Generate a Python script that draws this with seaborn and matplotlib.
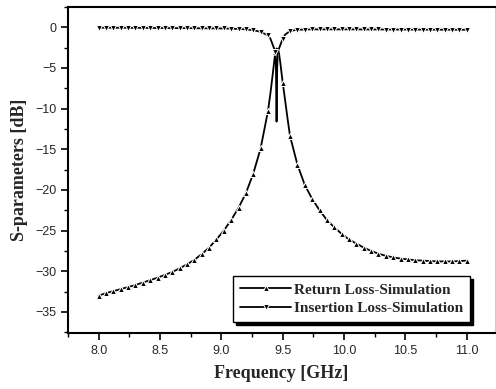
import numpy as np
import pandas as pd
import seaborn as sns
import matplotlib.pyplot as plt

# Return loss (S11), GHz / dB
freq_s11 = [8.00, 8.06, 8.12, 8.18, 8.24, 8.30, 8.36, 8.42, 8.48, 8.54,
            8.60, 8.66, 8.72, 8.78, 8.84, 8.90, 8.96, 9.02, 9.08, 9.14,
            9.20, 9.26, 9.32, 9.38, 9.40, 9.42, 9.44, 9.45, 9.46, 9.47,
            9.48, 9.50, 9.52, 9.54, 9.56, 9.62, 9.68, 9.74, 9.80, 9.86,
            9.92, 9.98, 10.04, 10.10, 10.16, 10.22, 10.28, 10.34, 10.40, 10.46,
            10.52, 10.58, 10.64, 10.70, 10.76, 10.82, 10.88, 10.94, 11.00]
s11 = [-33.0, -32.7, -32.45, -32.2, -31.95, -31.7, -31.4, -31.1, -30.8, -30.45,
       -30.1, -29.65, -29.15, -28.6, -27.9, -27.1, -26.1, -25.0, -23.7, -22.2,
       -20.4, -18.0, -14.9, -10.3, -8.1, -5.6, -3.0, -2.6, -2.7, -3.2,
       -4.3, -6.8, -9.0, -11.3, -13.4, -16.9, -19.4, -21.1, -22.5, -23.7,
       -24.6, -25.4, -26.1, -26.6, -27.1, -27.5, -27.85, -28.1, -28.3, -28.45,
       -28.55, -28.65, -28.7, -28.75, -28.8, -28.8, -28.8, -28.75, -28.7]

# Insertion loss (S21), GHz / dB
freq_s21 = [8.00, 8.06, 8.12, 8.18, 8.24, 8.30, 8.36, 8.42, 8.48, 8.54,
            8.60, 8.66, 8.72, 8.78, 8.84, 8.90, 8.96, 9.02, 9.08, 9.14,
            9.20, 9.26, 9.32, 9.38, 9.40, 9.42, 9.44, 9.445, 9.45, 9.455,
            9.46, 9.48, 9.50, 9.52, 9.56, 9.62, 9.68, 9.74, 9.80, 9.86,
            9.92, 9.98, 10.04, 10.10, 10.16, 10.22, 10.28, 10.34, 10.40, 10.46,
            10.52, 10.58, 10.64, 10.70, 10.76, 10.82, 10.88, 10.94, 11.00]
s21 = [-0.05, -0.05, -0.05, -0.06, -0.06, -0.07, -0.07, -0.08, -0.08, -0.09,
       -0.09, -0.1, -0.1, -0.11, -0.12, -0.12, -0.13, -0.14, -0.16, -0.2,
       -0.25, -0.35, -0.55, -1.0, -1.4, -2.2, -3.0, -5.0, -11.6, -5.0,
       -3.0, -2.2, -1.4, -0.9, -0.45, -0.3, -0.27, -0.25, -0.25, -0.25,
       -0.25, -0.25, -0.25, -0.25, -0.26, -0.26, -0.26, -0.27, -0.27, -0.27,
       -0.28, -0.28, -0.28, -0.29, -0.29, -0.29, -0.3, -0.3, -0.3]

df11 = pd.DataFrame({"f": freq_s11, "db": s11})
df21 = pd.DataFrame({"f": freq_s21, "db": s21})


def grid_idx(freqs):
    # markers only on the 0.06 GHz simulation grid
    k = (np.array(freqs) - 8.0) / 0.06
    return [i for i, v in enumerate(k) if abs(v - round(v)) < 1e-6]


sns.set_style("ticks")
plt.rcParams["font.family"] = ["Liberation Sans", "DejaVu Sans"]

fig = plt.figure(figsize=(4.96, 3.89), dpi=100)
ax = fig.add_axes([0.137, 0.144, 0.861, 0.838])

sns.lineplot(data=df11, x="f", y="db", ax=ax, color="black", lw=1.3,
             marker="^", markersize=4, markevery=grid_idx(freq_s11),
             label="Return Loss-Simulation", sort=False)
sns.lineplot(data=df21, x="f", y="db", ax=ax, color="black", lw=1.3,
             marker="v", markersize=4, markevery=grid_idx(freq_s21),
             label="Insertion Loss-Simulation", sort=False)

ax.set_xlim(7.755, 11.23)
ax.set_ylim(-37.6, 2.45)
ax.set_xticks(np.arange(8.0, 11.01, 0.5))
ax.set_xticks(np.arange(7.75, 11.2, 0.25), minor=True)
ax.set_yticks(np.arange(-35, 0.1, 5))
ax.set_yticks(np.arange(-37.5, 2.6, 2.5), minor=True)
ax.set_xticklabels([f"{v:.1f}" for v in np.arange(8.0, 11.01, 0.5)])
ax.tick_params(which="major", direction="out", length=5, width=1.2,
               labelsize=9, color="black")
ax.tick_params(which="minor", direction="out", length=3, width=1.0,
               color="black")

for s in ["left", "bottom", "top"]:
    ax.spines[s].set_color("black")
    ax.spines[s].set_linewidth(1.5)
ax.spines["right"].set_color("#cccccc")
ax.spines["right"].set_linewidth(0.8)

ax.set_xlabel("Frequency [GHz]", family="Liberation Serif", fontweight="bold",
              fontsize=13, labelpad=6)
ax.set_ylabel("S-parameters [dB]", family="Liberation Serif", fontweight="bold",
              fontsize=13, labelpad=5)

leg = ax.legend(loc="lower right", bbox_to_anchor=(0.941, 0.034),
                frameon=True, fancybox=False, shadow={"color": "black", "alpha": 1},
                handlelength=3.3, borderpad=0.45, labelspacing=0.3,
                handletextpad=0.2, borderaxespad=0,
                prop={"family": "Liberation Serif", "weight": "bold", "size": 11})
leg.get_frame().set_edgecolor("black")
leg.get_frame().set_linewidth(1.0)

fig.savefig("out.png", dpi=100)
